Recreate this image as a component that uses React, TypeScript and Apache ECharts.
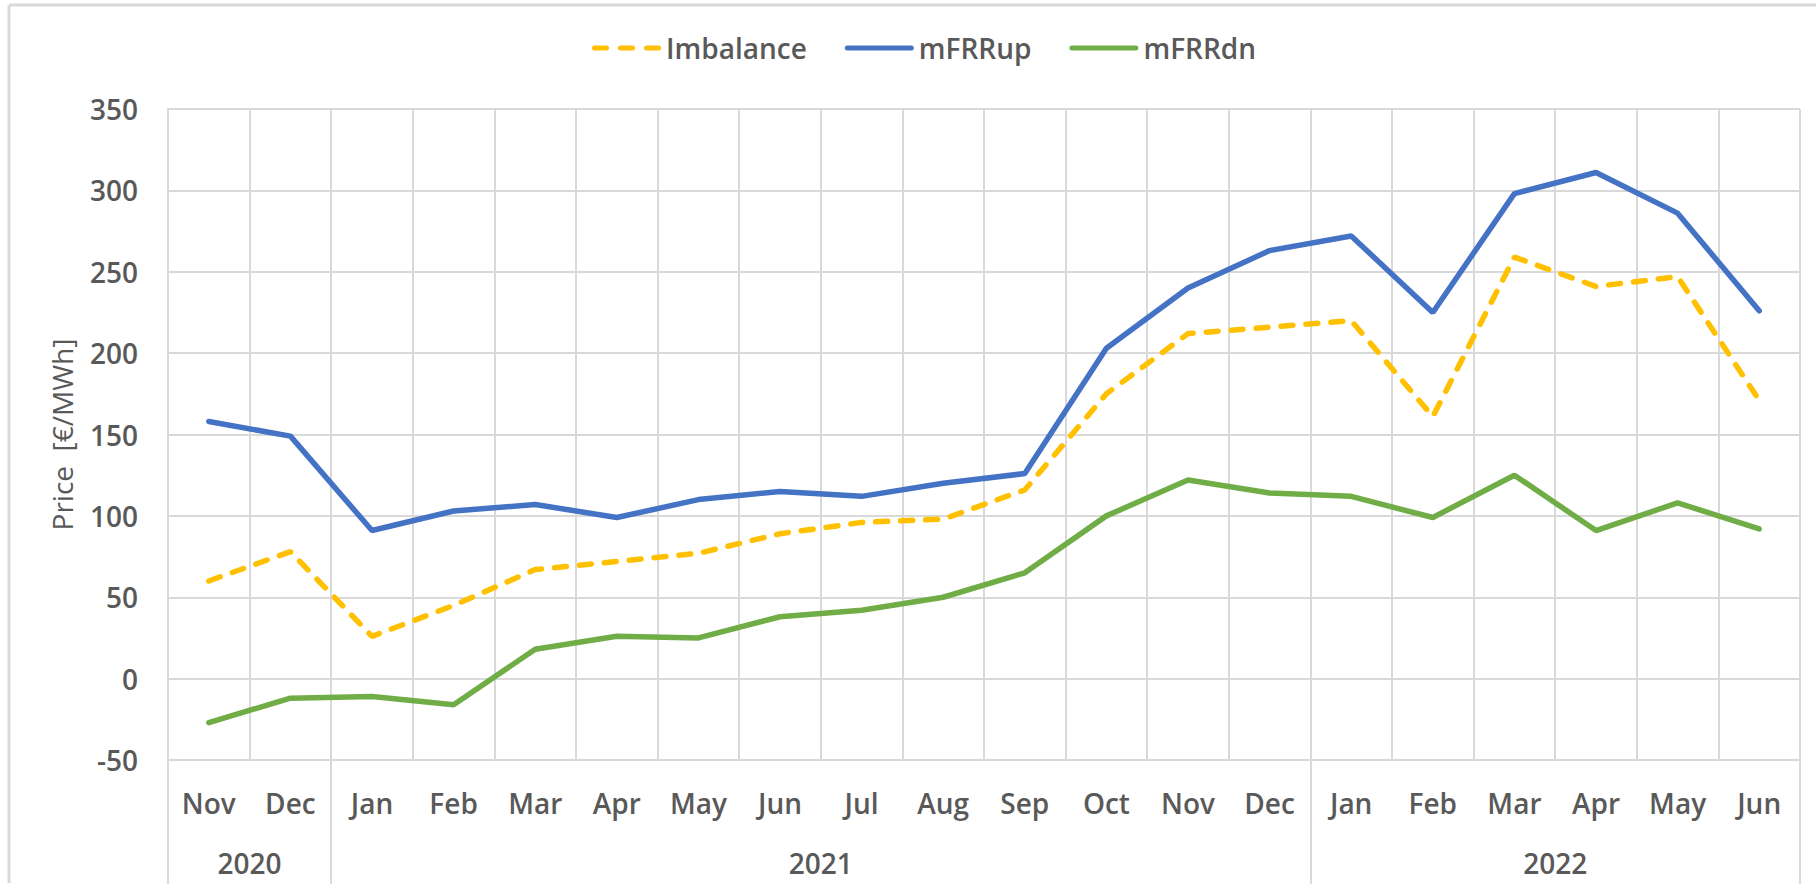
import React, { useEffect, useRef } from "react";
import * as echarts from "echarts";

const months = ["Nov", "Dec", "Jan", "Feb", "Mar", "Apr", "May", "Jun", "Jul", "Aug", "Sep", "Oct", "Nov", "Dec", "Jan", "Feb", "Mar", "Apr", "May", "Jun"];
const years = ["2020", "2021", "2022"];
const yearCenters = [1, 8, 17];
const yearBounds = [0, 2, 14, 20];
const yTicks = { min: -50, max: 350, step: 50 };

const imbalance = [60, 78, 26, 45, 67, 72, 77, 89, 96, 98, 116, 175, 212, 216, 220, 161, 259, 241, 247, 171];
const mfrrUp = [158, 149, 91, 103, 107, 99, 110, 115, 112, 120, 126, 203, 240, 263, 272, 225, 298, 311, 286, 226];
const mfrrDn = [-27, -12, -11, -16, 18, 26, 25, 38, 42, 50, 65, 100, 122, 114, 112, 99, 125, 91, 108, 92];

const FONT = "'Open Sans', 'Liberation Sans', sans-serif";
const TXT = "#595959";
const GRID = "#D9D9D9";

const DASH_ICON = "path://M2.5,0h12a2.5,2.5,0,0,1,0,5h-12a2.5,2.5,0,0,1,0,-5z M28.5,0h12a2.5,2.5,0,0,1,0,5h-12a2.5,2.5,0,0,1,0,-5z M54.5,0h12a2.5,2.5,0,0,1,0,5h-12a2.5,2.5,0,0,1,0,-5z";
const SOLID_ICON = "path://M2.5,0h64a2.5,2.5,0,0,1,0,5h-64a2.5,2.5,0,0,1,0,-5z";

export default function App() {
  const ref = useRef<HTMLDivElement>(null);
  useEffect(() => {
    if (!ref.current) return;
    const chart = echarts.init(ref.current, null, { renderer: "svg" });
    const labelStyle = { fontFamily: FONT, fontSize: 28, fontWeight: 600, color: TXT };
    chart.setOption({
      animation: false,
      backgroundColor: "#ffffff",
      textStyle: { fontFamily: FONT },
      legend: {
        left: 592,
        top: 34,
        padding: 0,
        itemWidth: 69,
        itemHeight: 5,
        itemGap: 38,
        textStyle: { ...labelStyle },
        data: [
          { name: "Imbalance", icon: DASH_ICON },
          { name: "mFRRup", icon: SOLID_ICON },
          { name: "mFRRdn", icon: SOLID_ICON },
        ],
      },
      grid: { left: 168, right: 16, top: 109, bottom: 131, containLabel: false },
      xAxis: [
        {
          type: "category",
          data: months,
          boundaryGap: true,
          position: "bottom",
          axisLine: { show: true, lineStyle: { color: GRID, width: 2 } },
          axisTick: { show: false },
          axisLabel: { ...labelStyle, interval: 0, margin: 29 },
          splitLine: { show: true, interval: 0, lineStyle: { color: GRID, width: 2 } },
        },
        {
          type: "value",
          position: "bottom",
          min: 0,
          max: 20,
          axisLine: { show: false },
          axisTick: { show: true, customValues: yearBounds, length: 124, lineStyle: { color: GRID, width: 2 } },
          axisLabel: {
            ...labelStyle,
            show: true,
            customValues: yearCenters,
            margin: 89,
            formatter: (v: number) => {
              const i = yearCenters.indexOf(v);
              return i >= 0 ? years[i] : "";
            },
          },
          splitLine: { show: false },
        },
      ],
      yAxis: {
        type: "value",
        min: yTicks.min,
        max: yTicks.max,
        interval: yTicks.step,
        name: "Price  [€/MWh]",
        nameLocation: "middle",
        nameRotate: 90,
        nameGap: 92,
        nameTextStyle: { fontFamily: FONT, fontSize: 28, color: TXT, fontWeight: 400 },
        axisLine: { show: true, lineStyle: { color: GRID, width: 2 } },
        axisTick: { show: false },
        axisLabel: { ...labelStyle, margin: 30 },
        splitLine: { show: true, lineStyle: { color: GRID, width: 2 } },
      },
      graphic: [
        { type: "line", shape: { x1: 9, y1: 5, x2: 1816, y2: 5 }, style: { stroke: GRID, lineWidth: 3 } },
        { type: "line", shape: { x1: 9, y1: 5, x2: 9, y2: 883 }, style: { stroke: GRID, lineWidth: 3 } },
      ],
      series: [
        {
          name: "Imbalance",
          type: "line",
          data: imbalance,
          symbol: "none",
          color: "#FFC000",
          lineStyle: { color: "#FFC000", width: 5.5, type: [12, 13], cap: "round" },
        },
        {
          name: "mFRRup",
          type: "line",
          data: mfrrUp,
          symbol: "none",
          color: "#4472C4",
          lineStyle: { color: "#4472C4", width: 5.5, cap: "round" },
        },
        {
          name: "mFRRdn",
          type: "line",
          data: mfrrDn,
          symbol: "none",
          color: "#70AD47",
          lineStyle: { color: "#70AD47", width: 5.5, cap: "round" },
        },
      ],
    });
    return () => chart.dispose();
  }, []);
  return <div ref={ref} style={{ position: "fixed", left: 0, top: 0, width: 1816, height: 891, background: "#fff" }} />;
}
